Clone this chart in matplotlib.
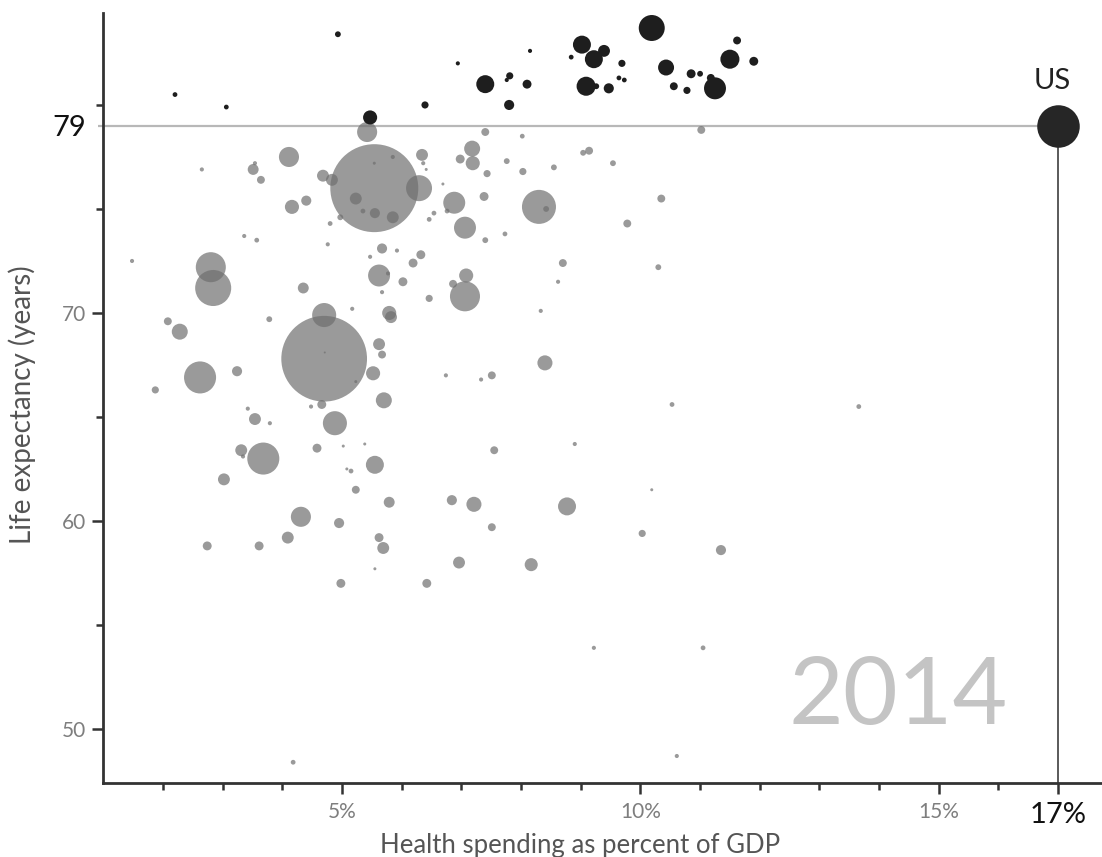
import numpy as np
import matplotlib
matplotlib.use('Agg')
import matplotlib.pyplot as plt

# Countries with life expectancy below the US (grey bubbles)
spend_low = [5.42, 4.11, 3.51, 3.54, 3.64, 2.65, 4.68, 4.83, 5.54, 5.23,
             5.55, 5.85, 5.54, 5.85, 5.35, 4.97, 4.16, 4.40, 4.80, 3.36,
             3.57, 4.76, 1.48, 2.80, 2.84, 4.35, 5.67, 5.47, 5.62, 5.77,
             5.67, 5.17, 5.79, 5.82, 2.08, 2.28, 3.78, 4.70, 7.40, 8.02,
             11.02, 7.18, 7.19, 6.98, 6.34, 6.36, 6.41, 7.76, 8.55, 9.04,
             9.14, 9.54, 7.43, 8.03, 6.29, 6.69, 6.88, 7.38, 8.30, 8.42,
             10.35, 9.78, 7.06, 6.54, 6.46, 6.76, 7.73, 7.40, 5.92, 6.32,
             6.19, 8.70, 10.30, 6.02, 7.08, 6.86, 7.06, 6.46, 8.62, 8.33,
             4.70, 4.71, 2.62, 3.24, 1.87, 5.62, 5.67, 5.52, 5.70, 5.23,
             4.48, 4.66, 4.88, 3.42, 3.54, 3.79, 3.68, 3.31, 3.34, 4.58,
             5.02, 5.38, 5.55, 5.08, 5.15, 3.02, 5.23, 5.79, 4.31, 4.95,
             4.09, 2.74, 3.61, 5.62, 5.69, 5.55, 8.40, 6.74, 7.33, 7.51,
             10.53, 7.55, 8.90, 10.19, 6.84, 7.21, 8.77, 7.51, 10.03, 6.96,
             8.17, 13.66, 11.35, 4.98, 6.42, 9.22, 11.05, 10.61, 4.18]
life_low = [78.7, 77.5, 76.9, 77.2, 76.4, 76.9, 76.6, 76.4, 76.0, 75.5,
            74.8, 74.6, 77.2, 77.5, 74.9, 74.6, 75.1, 75.4, 74.3, 73.7,
            73.5, 73.3, 72.5, 72.2, 71.2, 71.2, 73.1, 72.7, 71.8, 71.9,
            71.0, 70.2, 70.0, 69.8, 69.6, 69.1, 69.7, 69.9, 78.7, 78.5,
            78.8, 77.9, 77.2, 77.4, 77.6, 77.2, 76.9, 77.3, 77.0, 77.7,
            77.8, 77.2, 76.7, 76.8, 76.0, 76.2, 75.3, 75.6, 75.1, 75.0,
            75.5, 74.3, 74.1, 74.8, 74.5, 74.9, 73.8, 73.5, 73.0, 72.8,
            72.4, 72.4, 72.2, 71.5, 71.8, 71.4, 70.8, 70.7, 71.5, 70.1,
            67.8, 68.1, 66.9, 67.2, 66.3, 68.5, 68.0, 67.1, 65.8, 66.7,
            65.5, 65.6, 64.7, 65.4, 64.9, 64.7, 63.0, 63.4, 63.1, 63.5,
            63.6, 63.7, 62.7, 62.5, 62.4, 62.0, 61.5, 60.9, 60.2, 59.9,
            59.2, 58.8, 58.8, 59.2, 58.7, 57.7, 67.6, 67.0, 66.8, 67.0,
            65.6, 63.4, 63.7, 61.5, 61.0, 60.8, 60.7, 59.7, 59.4, 58.0,
            57.9, 65.5, 58.6, 57.0, 57.0, 53.9, 53.9, 48.7, 48.4]
pop_low = [71, 71, 21, 3, 11, 3, 25, 25, 1364, 25,
           18, 25, 1.6, 3, 4, 6, 35, 18, 4, 3,
           4, 3, 3, 159, 229, 21, 18, 3, 85, 3,
           3, 3, 35, 25, 11, 45, 6, 102, 11, 4,
           11, 45, 35, 14, 25, 3, 1.6, 6, 6, 6,
           11, 6, 9, 9, 119, 1.6, 85, 14, 204, 6,
           11, 11, 85, 4, 4, 4, 4, 6, 3, 14,
           14, 11, 6, 14, 35, 11, 159, 9, 3, 3,
           1295, 0.7, 181, 18, 9, 25, 11, 35, 45, 1.6,
           3, 14, 102, 3, 25, 3, 181, 25, 3, 14,
           1.6, 1.6, 57, 1.6, 4, 25, 11, 21, 71, 18,
           25, 14, 14, 14, 25, 1.6, 40, 3, 3, 11,
           4, 11, 3, 1.6, 18, 40, 57, 11, 9, 25,
           30, 4, 18, 14, 14, 3, 4, 3, 4]

# Countries with life expectancy above the US (dark bubbles)
spend_high = [4.93, 2.20, 3.06, 5.47, 6.39, 6.94, 7.40, 7.81, 7.76, 8.10,
              7.80, 8.15, 9.02, 9.22, 9.39, 8.84, 9.69, 9.09, 9.26, 9.47,
              9.64, 9.73, 10.19, 10.43, 10.85, 11.00, 10.56, 10.78, 11.18, 11.25,
              11.50, 11.62, 11.90]
life_high = [83.4, 80.5, 79.9, 79.4, 80.0, 82.0, 81.0, 81.4, 81.2, 81.0,
             80.0, 82.6, 82.9, 82.2, 82.6, 82.3, 82.0, 80.9, 80.9, 80.8,
             81.3, 81.2, 83.7, 81.8, 81.5, 81.5, 80.9, 80.7, 81.3, 80.8,
             82.2, 83.1, 82.1]
pop_high = [6, 4, 4, 35, 9, 3, 57, 9, 3, 14,
            18, 3, 57, 57, 25, 4, 9, 64, 6, 18,
            4, 4, 119, 45, 14, 6, 11, 9, 11, 85,
            64, 11, 14]

us_spend = 17
us_life = 79
us_pop = 319

year = '2014'
x_major = [5, 10, 15, 17]
x_labels = ['5%', '10%', '15%', '17%']
y_major = [50, 60, 70, 79]
y_labels = ['50', '60', '70', '79']

plt.rcParams['font.family'] = ['Lato', 'DejaVu Sans']


def bubble(pop):
    # marker area in points^2 proportional to population
    return 2.94 * np.asarray(pop, dtype=float)


fig = plt.figure(figsize=(11.02, 8.57), dpi=100)
ax = fig.add_axes([0.0935, 0.0863, 0.9065, 0.8985])
ax.set_xlim(0.994, 17.736)
ax.set_ylim(47.40, 84.42)

# reference lines through the US point
ax.plot([0.91, us_spend], [us_life, us_life], color='#b8b8b8', lw=1.6,
        zorder=1, clip_on=False, solid_capstyle='butt')
ax.plot([us_spend, us_spend], [47.40, us_life], color='#5a5a5a', lw=1.4,
        zorder=1, solid_capstyle='butt')

ax.scatter(spend_low, life_low, s=bubble(pop_low), color='#6f6f6f',
           alpha=0.7, linewidths=0, zorder=2)
ax.scatter(spend_high, life_high, s=bubble(pop_high), color='#1e1e1e',
           linewidths=0, zorder=3)
ax.scatter([us_spend], [us_life], s=bubble([us_pop]), color='#262626',
           linewidths=0, zorder=3)

ax.text(us_spend - 0.1, us_life + 1.55, 'US', ha='center', va='bottom',
        fontsize=21, color='#222222')
ax.text(14.32, 50.23, year, ha='center', va='baseline', fontsize=68,
        color='#c4c4c4')

# axes styling
for side in ['top', 'right']:
    ax.spines[side].set_visible(False)
for side in ['left', 'bottom']:
    ax.spines[side].set_color('#333333')
    ax.spines[side].set_linewidth(2)

ax.set_xticks(x_major)
ax.set_xticklabels(x_labels)
ax.set_xticks(range(2, 18), minor=True)
ax.set_yticks(y_major)
ax.set_yticklabels(y_labels)
ax.set_yticks([55, 65, 75, 80], minor=True)

ax.tick_params(axis='both', which='major', length=8, width=1.8,
               color='#333333', labelsize=15, labelcolor='#7e7e7e')
ax.tick_params(axis='both', which='minor', length=5, width=1.8,
               color='#333333')
ax.tick_params(axis='x', which='major', pad=6)
ax.tick_params(axis='y', which='major', pad=4)

for lab, txt in zip(ax.get_xticklabels(), x_labels):
    if txt == '17%':
        lab.set_fontsize(21)
        lab.set_color('#111111')
for tick, txt in zip(ax.yaxis.get_major_ticks(), y_labels):
    if txt == '79':
        tick.tick1line.set_visible(False)
        tick.label1.set_fontsize(21)
        tick.label1.set_color('#111111')

fig.text(580 / 1102, 1 - 846 / 857, 'Health spending as percent of GDP',
         ha='center', va='center', fontsize=18.5, color='#555555')
fig.text(22 / 1102, 1 - 405 / 857, 'Life expectancy (years)',
         ha='center', va='center', rotation=90, fontsize=20,
         color='#555555')

fig.savefig('out.png', dpi=100)
